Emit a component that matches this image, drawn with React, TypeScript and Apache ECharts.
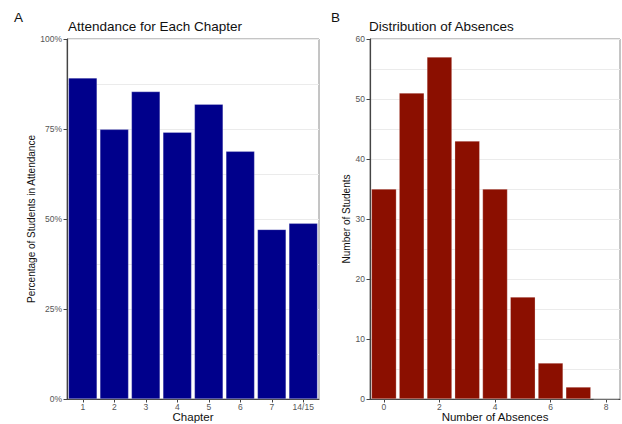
import React, { useEffect, useRef } from "react";
import * as echarts from "echarts";

const chapters = ["1", "2", "3", "4", "5", "6", "7", "14/15"];
const attendancePct = [89.2, 74.9, 85.4, 74.1, 81.9, 68.8, 47.1, 48.8];

const absenceBins = ["0", "1", "2", "3", "4", "5", "6", "7", "8"];
const absenceCounts = [35, 51, 57, 43, 35, 17, 6, 2, 0];

const FONT = "Liberation Sans, Arial, sans-serif";

export default function App() {
  const ref = useRef<HTMLDivElement>(null);

  useEffect(() => {
    if (!ref.current) return;
    const chart = echarts.init(ref.current, undefined, { renderer: "svg" });
    const gridLine = { show: true, lineStyle: { color: "#ebebeb", width: 1 } };
    const axisLine = { show: true, lineStyle: { color: "#444", width: 1.2 } };
    const axisTick = { show: true, length: 3.5, lineStyle: { color: "#444" } };
    const tickLabel = { color: "#555", fontSize: 8.5, fontFamily: FONT };
    const nameStyle = { color: "#111", fontSize: 11.5, fontFamily: FONT };
    const titleStyle = { fontSize: 13.5, fontWeight: "normal", color: "#111", fontFamily: FONT };

    chart.setOption({
      animation: false,
      backgroundColor: "#fff",
      textStyle: { fontFamily: FONT },
      title: [
        { text: "A", left: 14, top: 10, padding: 0, textStyle: titleStyle },
        { text: "Attendance for Each Chapter", left: 68, top: 19, padding: 0, textStyle: titleStyle },
        { text: "B", left: 331, top: 10, padding: 0, textStyle: titleStyle },
        { text: "Distribution of Absences", left: 369, top: 19, padding: 0, textStyle: titleStyle },
      ],
      grid: [
        { left: 67, top: 39, width: 252, height: 360, show: true, borderColor: "#8a8a8a", borderWidth: 1, containLabel: false, outerBoundsMode: "none" },
        { left: 370, top: 39, width: 250, height: 360, show: true, borderColor: "#8a8a8a", borderWidth: 1, containLabel: false, outerBoundsMode: "none" },
      ],
      xAxis: [
        {
          type: "category",
          gridIndex: 0,
          data: chapters,
          axisLine,
          axisTick: { ...axisTick, alignWithLabel: true },
          axisLabel: { ...tickLabel, margin: 3 },
          splitLine: { show: false },
          name: "Chapter",
          nameLocation: "middle",
          nameGap: 12,
          nameMoveOverlap: false,
          nameTextStyle: nameStyle,
        },
        {
          type: "category",
          gridIndex: 1,
          data: absenceBins,
          axisLine,
          axisTick: { ...axisTick, alignWithLabel: true, interval: 1 },
          axisLabel: { ...tickLabel, margin: 3, interval: 1 },
          splitLine: { show: false },
          name: "Number of Absences",
          nameLocation: "middle",
          nameGap: 12,
          nameMoveOverlap: false,
          nameTextStyle: nameStyle,
        },
      ],
      yAxis: [
        {
          type: "value",
          gridIndex: 0,
          min: 0,
          max: 100,
          interval: 25,
          axisLine,
          axisTick,
          axisLabel: { ...tickLabel, margin: 5, formatter: "{value}%" },
          splitLine: gridLine,
          minorTick: { show: false, splitNumber: 2 },
          minorSplitLine: gridLine,
          name: "Percentage of Students in Attendance",
          nameLocation: "middle",
          nameGap: 31,
          nameTextStyle: { ...nameStyle, fontSize: 10 },
        },
        {
          type: "value",
          gridIndex: 1,
          min: 0,
          max: 60,
          interval: 10,
          axisLine,
          axisTick,
          axisLabel: { ...tickLabel, margin: 5 },
          splitLine: gridLine,
          minorTick: { show: false, splitNumber: 2 },
          minorSplitLine: gridLine,
          name: "Number of Students",
          nameLocation: "middle",
          nameGap: 19,
          nameTextStyle: { ...nameStyle, fontSize: 10 },
        },
      ],
      series: [
        {
          type: "bar",
          xAxisIndex: 0,
          yAxisIndex: 0,
          data: attendancePct,
          barCategoryGap: "9%",
          itemStyle: { color: "#00008B", borderColor: "rgba(255,255,255,0.5)", borderWidth: 0.5 },
        },
        {
          type: "bar",
          xAxisIndex: 1,
          yAxisIndex: 1,
          data: absenceCounts,
          barCategoryGap: "10%",
          itemStyle: { color: "#8B0F00", borderColor: "rgba(255,255,255,0.5)", borderWidth: 0.5 },
        },
      ],
    });
    return () => chart.dispose();
  }, []);

  return <div ref={ref} style={{ width: 622, height: 424, position: "absolute", left: 0, top: 0 }} />;
}
